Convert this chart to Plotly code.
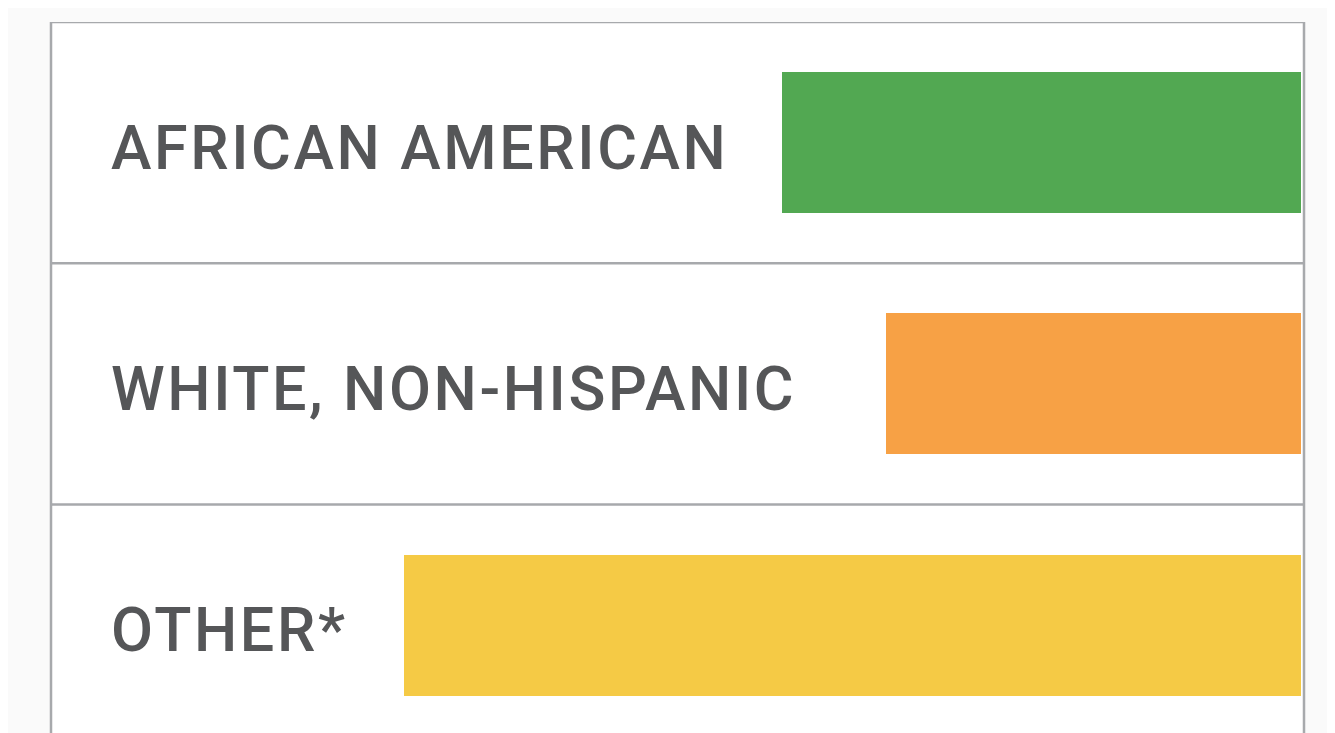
import plotly.graph_objects as go

categories = ["AFRICAN AMERICAN", "WHITE, NON-HISPANIC", "OTHER*"]
values = [41.5, 33.2, 71.8]
colors = ["#52a852", "#f7a145", "#f5ca45"]

fig = go.Figure()
fig.add_trace(go.Bar(
    y=list(range(len(categories))),
    x=values,
    orientation="h",
    marker=dict(color=colors, line=dict(width=0)),
    width=0.584,
    hoverinfo="skip",
))

border = "#a7a9ac"
shapes = []
shapes.append(dict(type="line", xref="paper", yref="y", x0=0, x1=1, y0=-0.5, y1=-0.5,
                   line=dict(color=border, width=2.5)))
for yv in [0.5, 1.5]:
    shapes.append(dict(type="line", xref="paper", yref="y", x0=0, x1=1, y0=yv, y1=yv,
                       line=dict(color=border, width=2.5)))
for xv in [0, 1]:
    shapes.append(dict(type="line", xref="paper", yref="paper", x0=xv, x1=xv, y0=0, y1=1.0,
                       line=dict(color=border, width=2.5)))

annotations = []
for i, c in enumerate(categories):
    annotations.append(dict(
        text='<span style="letter-spacing:2.6px">' + c + '</span>',
        xref="paper", yref="y", x=0.0463, y=i, yshift=-5,
        xanchor="left", yanchor="middle", showarrow=False,
        font=dict(family="Roboto", size=61, color="#555658", weight=500),
    ))

# plot area mapped to 51..1304 x 22..733 on screen (page has 8px body offset)
plot_h = 733 - 14
fig.update_layout(
    width=1335, height=733,
    margin=dict(l=43, r=39, t=14, b=0),
    paper_bgcolor="#fafafa",
    plot_bgcolor="#ffffff",
    showlegend=False,
    bargap=0,
    xaxis=dict(range=[100, -0.24], visible=False, fixedrange=True),
    yaxis=dict(range=[-0.5 + plot_h / 241.3, -0.5], visible=False, fixedrange=True),
    shapes=shapes,
    annotations=annotations,
)

fig.write_html("out.html")
